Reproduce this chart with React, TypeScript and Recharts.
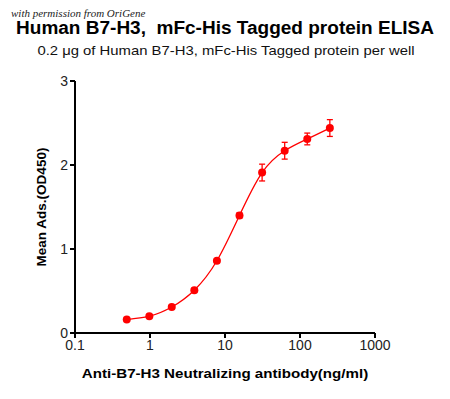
import React from "react";
import { LineChart, Line, XAxis, YAxis, ErrorBar } from "recharts";

const concentrations = [0.49, 0.98, 1.95, 3.9, 7.8, 15.6, 31.25, 62.5, 125, 250];
const meanOD = [0.16, 0.2, 0.31, 0.51, 0.86, 1.4, 1.91, 2.17, 2.31, 2.44];
const errors = [0.01, 0.01, 0.01, 0.02, 0.02, 0.03, 0.1, 0.1, 0.07, 0.1];
const xTicks = [0.1, 1, 10, 100, 1000];
const yTicks = [0, 1, 2, 3];

const titleText = "Human B7-H3,\u00a0 mFc-His Tagged protein ELISA";
const subtitleText = "0.2 μg of Human B7-H3, mFc-His Tagged protein per well";
const xLabelText = "Anti-B7-H3 Neutralizing antibody(ng/ml)";
const yLabelText = "Mean Ads.(OD450)";
const watermarkText = "with permission from OriGene";

const data = concentrations.map((c, i) => ({ x: c, y: meanOD[i], err: errors[i] }));

const RED = "#ff0000";
const FONT = "Arial, 'Liberation Sans', sans-serif";

export default function App() {
  return (
    <div style={{ position: "absolute", left: 0, top: 0, width: 450, height: 399, background: "#fff", fontFamily: FONT, overflow: "hidden" }}>
      <LineChart width={450} height={399} data={data} margin={{ top: 81, right: 75, bottom: 0, left: 20 }}>
        <XAxis
          dataKey="x"
          type="number"
          scale="log"
          domain={[0.1, 1000]}
          ticks={xTicks}
          allowDataOverflow
          tickFormatter={(v: number) => String(v)}
          stroke="#000"
          strokeWidth={2}
          tickSize={5}
          tick={{ fill: "#222", fontSize: 14, fontFamily: FONT }}
          height={66}
        />
        <YAxis
          type="number"
          domain={[0, 3]}
          ticks={yTicks}
          width={55}
          stroke="#000"
          strokeWidth={2}
          tickSize={5}
          tick={{ fill: "#222", fontSize: 14, fontFamily: FONT }}
        />
        <Line
          dataKey="y"
          type="natural"
          stroke={RED}
          strokeWidth={1.3}
          dot={{ r: 4, fill: RED, stroke: RED, strokeWidth: 0 }}
          isAnimationActive={false}
        >
          <ErrorBar dataKey="err" width={3} stroke={RED} strokeWidth={1.3} direction="y" />
        </Line>
      </LineChart>
      <div style={{ position: "absolute", left: 0, width: 450, top: 19, lineHeight: 1, textAlign: "center", fontWeight: "bold", fontSize: 18, color: "#000", whiteSpace: "nowrap", transform: "scaleX(1.056)", transformOrigin: "225px 0" }}>
        {titleText}
      </div>
      <div style={{ position: "absolute", left: 0, width: 452, top: 43.5, lineHeight: 1, textAlign: "center", fontSize: 13.5, color: "#111", whiteSpace: "nowrap", transform: "scaleX(1.1)", transformOrigin: "226px 0" }}>
        {subtitleText}
      </div>
      <div style={{ position: "absolute", left: 11, top: 7, fontFamily: "'Liberation Serif', 'DejaVu Serif', serif", fontStyle: "italic", fontSize: 11, color: "#222", whiteSpace: "nowrap" }}>
        {watermarkText}
      </div>
      <div style={{ position: "absolute", left: 0, width: 450, top: 367, lineHeight: 1, textAlign: "center", fontWeight: "bold", fontSize: 13.5, color: "#000", whiteSpace: "nowrap", transform: "scaleX(1.12)", transformOrigin: "225px 0" }}>
        {xLabelText}
      </div>
      <div style={{ position: "absolute", left: 42, top: 207, lineHeight: 1, fontWeight: "bold", fontSize: 13.5, color: "#000", whiteSpace: "nowrap", transform: "translate(-50%, -50%) rotate(-90deg)" }}>
        {yLabelText}
      </div>
    </div>
  );
}
